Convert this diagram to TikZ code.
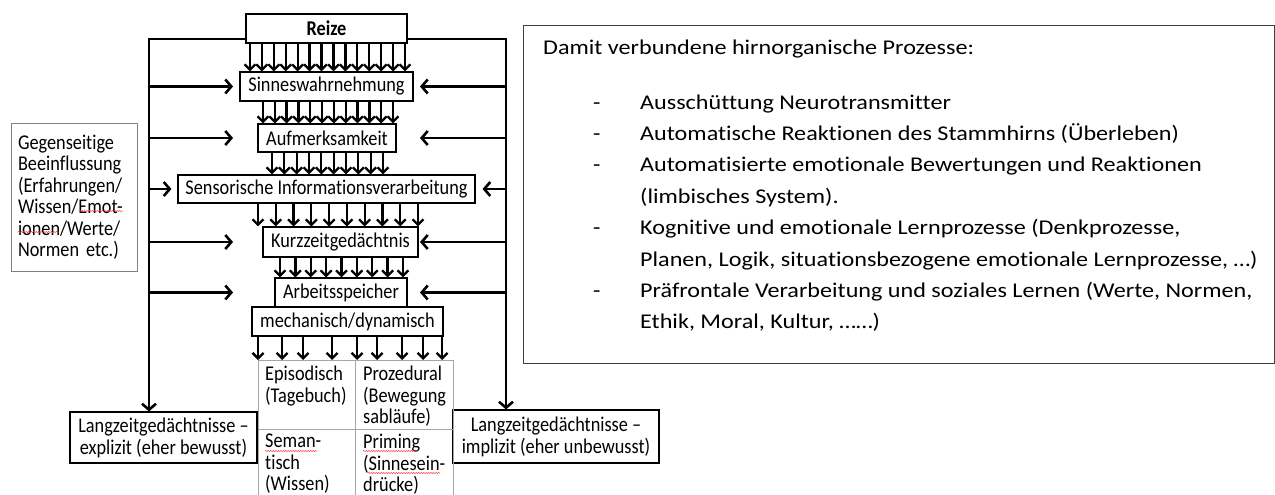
\documentclass[tikz,border=0pt]{standalone}
\usepackage{fontspec}
\setmainfont{Carlito}
\newfontfamily\nf[FakeStretch=0.87,Ligatures={NoCommon,TeX}]{Carlito}
\newfontfamily\wf[FakeStretch=1.15,Ligatures={NoCommon,TeX}]{Carlito}
\usetikzlibrary{arrows.meta,calc,decorations.pathmorphing}
\begin{document}
\begin{tikzpicture}[x=1pt,y=-1pt,
 box/.style={draw=black,line width=1.1pt,inner sep=0pt,align=center,font=\nf\fontsize{21}{22}\selectfont},
 big/.style={line width=2.6pt,-{Straight Barb[length=6pt,width=14pt,line width=2.6pt]}},
 sm/.style={line width=2.3pt,-{Straight Barb[length=5.5pt,width=11pt,line width=2.3pt]}},
 tline/.style={draw=gray!70,line width=1pt},
 txt/.style={inner sep=0pt,align=left,anchor=north west,font=\nf\fontsize{21}{21.5}\selectfont},
 squig/.style={draw=red!80,line width=0.5pt,decorate,decoration={snake,amplitude=0.6pt,segment length=2.5pt}}]
\useasboundingbox (0,0) rectangle (1275,495);

% boxes of the chain
\node[box,line width=1.8pt,minimum width=161pt,minimum height=29pt,font=\nf\bfseries\fontsize{21}{22}\selectfont] (reize) at (326.5,28.5) {Reize};
\node[box,minimum width=173pt,minimum height=29pt] (sinn) at (326.5,86.5) {Sinneswahrnehmung};
\node[box,minimum width=138pt,minimum height=28pt] (aufm) at (327,138) {Aufmerksamkeit};
\node[box,minimum width=297pt,minimum height=28pt] (sens) at (326.5,189) {Sensorische Informationsverarbeitung};
\node[box,minimum width=155pt,minimum height=30pt] (kurz) at (340.5,242) {Kurzzeitgedächtnis};
\node[box,minimum width=132pt,minimum height=29pt] (arb) at (341,292.5) {Arbeitsspeicher};
\node[box,minimum width=191pt,minimum height=29pt] (mech) at (347.5,321.5) {mechanisch/dynamisch};
\node[box,minimum width=187pt,minimum height=51pt] (ltml) at (163.5,437.5) {Langzeitgedächtnisse –\\explizit (eher bewusst)};
\node[box,minimum width=206pt,minimum height=53pt] (ltmr) at (556,436.5) {Langzeitgedächtnisse –\\implizit (eher unbewusst)};

% left note
\node[draw=gray,line width=1pt,minimum height=148pt,text width=112pt,inner xsep=7pt,inner ysep=0pt,align=left,font=\nf\fontsize{21}{21.5}\selectfont] (gb) at (74,197) {Gegenseitige\\Beeinflussung\\(Erfahrungen/\\Wissen/Emot-\\ionen/Werte/\\Normen etc.)};

% table
\node[minimum width=195pt,minimum height=140pt,inner sep=0pt,anchor=north west] (tab) at (258,360) {};
\draw[tline] (tab.south west) -- (tab.north west) -- (tab.north east) -- (tab.south east);
\draw[tline] (tab.north) -- (tab.south);
\draw[tline] (tab.west |- 0,429) -- (tab.east |- 0,429);
\node[txt] (c1) at (265,366) {Episodisch\\(Tagebuch)};
\node[txt] (c2) at (363,366) {Prozedural\\(Bewegung\\sabläufe)};
\node[txt] (c3) at (265,434) {Seman-\\tisch\\(Wissen)};
\node[txt] (c4) at (363,434) {Priming\\(Sinnesein-\\drücke)};

% spell-check squiggles
\draw[squig] (79,211) -- (123,211);
\draw[squig] (18,232) -- (59,232);
\draw[squig] (265,451) -- (317,451);
\draw[squig] (363,451) -- (418,451);
\draw[squig] (368,473) -- (440,473);

% main loop lines
\draw[big] ($(reize.south west)+(0,-5)$) -| (149,0 |- ltml.north);
\draw[big] ($(reize.south east)+(0,-5)$) -| (506,0 |- ltmr.north);
\foreach \n in {sinn,aufm,kurz,arb}{
  \draw[big] (149,0 |- \n) -- (233,0 |- \n);
  \draw[big] (506,0 |- \n) -- (420,0 |- \n);
}
\draw[big] (149,0 |- sens) -- ($(sens.west)+(-6,0)$);
\draw[big] (506,0 |- sens) -- ($(sens.east)+(7,0)$);

% arrow rows
\foreach \i in {0,...,13}{\pgfmathsetmacro\xx{250+\i*155/13}
  \draw[sm] (\xx,0 |- reize.south) -- (\xx,0 |- sinn.north);}
\foreach \i in {0,...,11}{\pgfmathsetmacro\xx{263+\i*130/11}
  \draw[sm] (\xx,0 |- sinn.south) -- (\xx,0 |- aufm.north);}
\foreach \i in {0,...,9}{\pgfmathsetmacro\xx{272+\i*111/9}
  \draw[sm] (\xx,0 |- aufm.south) -- (\xx,0 |- sens.north);}
\foreach \i in {0,...,9}{\pgfmathsetmacro\xx{258+\i*160/9}
  \draw[sm] (\xx,0 |- sens.south) -- (\xx,0 |- kurz.north);}
\foreach \i in {0,...,8}{\pgfmathsetmacro\xx{280+\i*123/8}
  \draw[sm] (\xx,0 |- kurz.south) -- (\xx,0 |- arb.north);}
\foreach \xx in {258,282,303,332,357,377,402,423,442}{
  \draw[sm] (\xx,0 |- mech.south) -- (\xx,0 |- tab.north);}

% right text box
\node[draw=black!75,line width=1.2pt,minimum width=751pt,minimum height=338pt,anchor=north west,inner sep=0pt] (rb) at (523,25) {};
\node[inner sep=0pt,anchor=north west,font=\wf\fontsize{21}{31.4}\selectfont] (head) at (543,40) {Damit verbundene hirnorganische Prozesse:};
\node[inner sep=0pt,anchor=north west,font=\wf\fontsize{21}{31.4}\selectfont] (items) at (593,87) {%
\begin{tabular}{@{}p{47pt}@{}l@{}}
- & Ausschüttung Neurotransmitter\\
- & Automatische Reaktionen des Stammhirns (Überleben)\\
- & Automatisierte emotionale Bewertungen und Reaktionen\\
  & (limbisches System).\\
- & Kognitive und emotionale Lernprozesse (Denkprozesse,\\
  & Planen, Logik, situationsbezogene emotionale Lernprozesse, …)\\
- & Präfrontale Verarbeitung und soziales Lernen (Werte, Normen,\\
  & Ethik, Moral, Kultur, ……)
\end{tabular}};
\end{tikzpicture}
\end{document}
